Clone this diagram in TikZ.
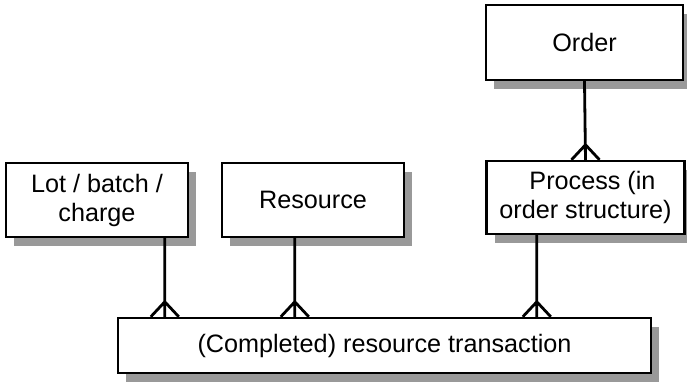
\documentclass[tikz,border=0pt]{standalone}
\usepackage{fontspec}
\setmainfont{Liberation Sans}
\usetikzlibrary{shadows}
\tikzset{
  entity/.style={draw, line width=1.2pt, fill=white, align=center, inner sep=0pt,
    drop shadow={shadow xshift=4pt, shadow yshift=-4.5pt, fill=black!40, opacity=1},
    font=\fontsize{12.6}{14.5}\selectfont},
  link/.style={line width=1.4pt},
  % many end of the relation
  crowfoot/.style={to path={-- (\tikztotarget) ++(-14,0) -- ++(14,-15) -- ++(14,15)}}
}

\begin{document}
\begin{tikzpicture}[x=0.5pt, y=-0.5pt]
  \useasboundingbox (0,0) rectangle (687,383);
  % entities
  \node[entity, minimum width=91pt, minimum height=37pt] (lot) at (97,200) {Lot / batch /\\charge};
  \node[entity, minimum width=91pt, minimum height=37pt] (resource) at (313,200) {Resource};
  \node[entity, minimum width=98.5pt, minimum height=37.5pt] (order) at (584.5,42.5) {Order};
  \node[entity, minimum width=99pt, minimum height=36.5pt] (process) at (585.5,197.5) {\hspace*{7pt}Process (in\\order structure)};
  \node[entity, minimum width=266.5pt, minimum height=27.5pt] (trans) at (384.5,345.5) {(Completed) resource transaction};
  % connection points on the transaction
  \path (trans.north west) ++(48,0) coordinate (tlot);
  \path (trans.north west) ++(178,0) coordinate (tres);
  \path (trans.north west) ++(420,0) coordinate (tproc);
  % relations
  \draw[link, crowfoot] (tlot |- lot.south) to (tlot);
  \draw[link, crowfoot] (tres |- resource.south) to (tres);
  \draw[link, crowfoot] (tproc |- process.south) to (tproc);
  \draw[link, crowfoot] (order.south) to (process.north);
\end{tikzpicture}
\end{document}
